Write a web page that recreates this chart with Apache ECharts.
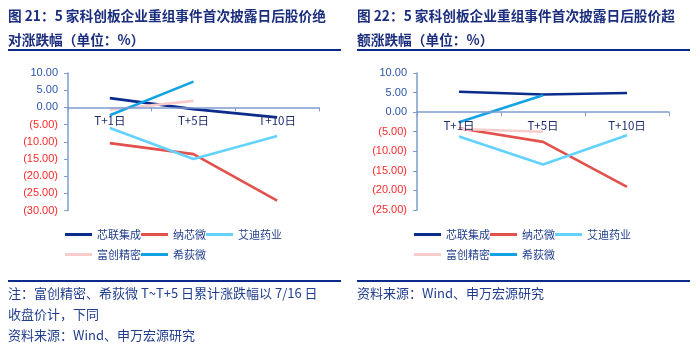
<!DOCTYPE html>
<html>
<head>
<meta charset="utf-8">
<script src="https://cdn.jsdelivr.net/npm/echarts@6/dist/echarts.min.js"></script>
<style>
  html, body { margin: 0; padding: 0; background: #fff; }
  #chart { width: 700px; height: 355px; }
</style>
</head>
<body>
<div id="chart"></div>
<script>
// --- 数据 ---
const categories = ['T+1日', 'T+5日', 'T+10日'];
const seriesNames = ['芯联集成', '纳芯微', '艾迪药业', '富创精密', '希荻微'];
const seriesColors = ['#0b2c8c', '#e2514b', '#63d2ff', '#f9cccc', '#12a3e3'];

// 图21：绝对涨跌幅
const absXinlian = [2.7, -0.5, -2.9];
const absNaxin = [-10.4, -13.6, -27.1];
const absAidi = [-6.0, -15.0, -8.3];
const absFuchuang = [-0.7, 1.9, null];
const absXidi = [-2.3, 7.5, null];

// 图22：超额涨跌幅
const excXinlian = [5.2, 4.5, 4.9];
const excNaxin = [-4.1, -7.6, -19.1];
const excAidi = [-6.2, -13.4, -5.9];
const excFuchuang = [-4.3, -5.0, null];
const excXidi = [-2.6, 4.3, null];

const leftTicks = { min: -30, max: 10, interval: 5 };
const rightTicks = { min: -25, max: 10, interval: 5 };

const titleLeft = ['图 21：5 家科创板企业重组事件首次披露日后股价绝', '对涨跌幅（单位：%）'];
const titleRight = ['图 22：5 家科创板企业重组事件首次披露日后股价超', '额涨跌幅（单位：%）'];
const notesLeft = ['注：富创精密、希荻微 T~T+5 日累计涨跌幅以 7/16 日', '收盘价计，下同', '资料来源：Wind、申万宏源研究'];
const notesRight = ['资料来源：Wind、申万宏源研究'];

// --- 样式 ---
const FONT = '"Noto Sans CJK SC", "Liberation Sans", sans-serif';
const NAVY = '#1b2e7e';
const TEXT_BLUE = '#223f8e';
const AXIS_COLOR = '#7d9bd1';

const chart = echarts.init(document.getElementById('chart'));

const yLabelFmt = v => (v < 0 ? '(' + Math.abs(v).toFixed(2) + ')' : v.toFixed(2));
const yLabelColor = v => (v < 0 ? '#ff2a2a' : '#2d56a8');

// 网格尺寸，x 轴放在 0 值处（标签跟随）
const grids = [
  { left: 68, top: 73, width: 251, height: 137.5 },
  { left: 417, top: 73, width: 252, height: 137 }
];
const zeroOffset = (g, t) => -g.height * (0 - t.min) / (t.max - t.min);

const makeX = (gi, t) => ({
  type: 'category',
  gridIndex: gi,
  data: categories,
  position: 'bottom',
  offset: zeroOffset(grids[gi], t),
  z: 10,
  axisLine: { onZero: false, lineStyle: { color: AXIS_COLOR, width: 1.5 } },
  axisTick: { show: true, length: 4, inside: false, lineStyle: { color: AXIS_COLOR } },
  axisLabel: { color: '#1f2d6b', fontSize: 11.5, fontFamily: FONT, margin: 8 },
  splitLine: { show: false }
});

const makeY = (gi, t) => ({
  type: 'value',
  gridIndex: gi,
  min: t.min,
  max: t.max,
  interval: t.interval,
  axisLine: { show: true, lineStyle: { color: AXIS_COLOR, width: 1.5 } },
  axisTick: { show: true, length: 4, lineStyle: { color: AXIS_COLOR } },
  axisLabel: { formatter: yLabelFmt, color: yLabelColor, fontSize: 11, fontFamily: 'Liberation Sans, Arial, sans-serif', margin: 10 },
  splitLine: { show: false }
});

const panelData = [
  [absXinlian, absNaxin, absAidi, absFuchuang, absXidi],
  [excXinlian, excNaxin, excAidi, excFuchuang, excXidi]
];

const series = [];
panelData.forEach((arrs, gi) => {
  arrs.forEach((d, i) => {
    series.push({
      name: seriesNames[i],
      type: 'line',
      xAxisIndex: gi,
      yAxisIndex: gi,
      data: d,
      showSymbol: false,
      symbol: 'none',
      lineStyle: { color: seriesColors[i], width: 2.6 },
      itemStyle: { color: seriesColors[i] },
      z: 2 + i
    });
  });
});

const makeLegend = (left, top, names) => ({
  left: left,
  top: top,
  padding: 0,
  data: names,
  orient: 'horizontal',
  itemWidth: 27,
  itemHeight: 12,
  itemGap: 0,
  icon: 'path://M0,5 L27,5 L27,8 L0,8 Z',
  textStyle: { color: TEXT_BLUE, fontSize: 11, fontFamily: FONT, width: 43 },
  selectedMode: false
});

// 标题、分隔线、注释
const graphic = [];
const addTitle = (x, lines) => {
  lines.forEach((t, i) => {
    graphic.push({
      type: 'text', left: x, top: 9 + i * 24,
      style: { text: t, fill: NAVY, font: 'bold 13.7px ' + FONT }
    });
  });
};
const addRule = (x1, x2, y) => {
  graphic.push({
    type: 'line',
    shape: { x1: x1, y1: y, x2: x2, y2: y },
    style: { stroke: '#0d2a8a', lineWidth: 2 }
  });
};
const addNotes = (x, lines) => {
  lines.forEach((t, i) => {
    graphic.push({
      type: 'text', left: x, top: 287 + i * 21,
      style: { text: t, fill: TEXT_BLUE, font: '13px ' + FONT }
    });
  });
};
addTitle(8, titleLeft);
addTitle(357, titleRight);
addRule(8, 341, 50);
addRule(357, 690, 50);
addRule(8, 341, 281);
addRule(357, 690, 281);
addNotes(8, notesLeft);
addNotes(357, notesRight);

chart.setOption({
  backgroundColor: '#fff',
  animation: false,
  grid: grids,
  xAxis: [makeX(0, leftTicks), makeX(1, rightTicks)],
  yAxis: [makeY(0, leftTicks), makeY(1, rightTicks)],
  legend: [
    makeLegend(65, 229, seriesNames.slice(0, 3)),
    makeLegend(65, 249, seriesNames.slice(3)),
    makeLegend(414, 229, seriesNames.slice(0, 3)),
    makeLegend(414, 249, seriesNames.slice(3))
  ],
  series: series,
  graphic: graphic
});
</script>
</body>
</html>
